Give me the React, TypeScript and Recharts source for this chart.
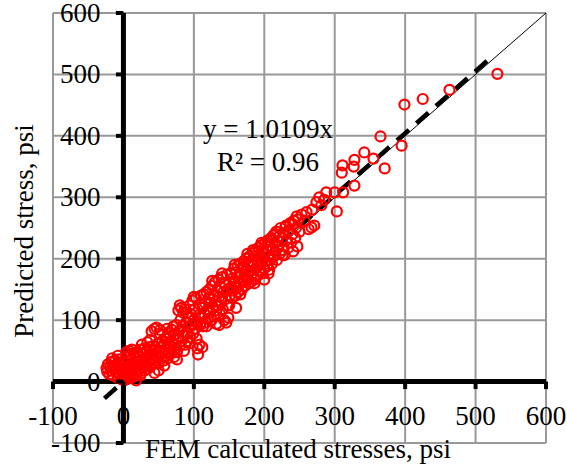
import React from 'react';
import { ScatterChart, Scatter, XAxis, YAxis, CartesianGrid, ReferenceLine, Customized } from 'recharts';

// FEM calculated stresses (psi) — x values
const femStress = [
  -24, -23, -22, -20, -19, -18, -17, -15, -14, -13,
  -12, -10, -9, -8, -7, -6, -5, -4, -3, -2,
  -1, 0, 0, 1,
  2, 2, 3, 4, 5, 5, 6, 7, 8, 9,
  10, 10, 11, 12, 13, 14, 15, 15, 16, 17,
  18, 19, 20, 20,
  21, 22, 23, 24, 25, 26, 27, 28, 29, 30,
  30, 31, 32, 33, 34, 35, 36, 37, 38, 39,
  40, 40,
  41, 42, 43, 44, 45, 46, 47, 48, 49, 50,
  51, 52, 53, 54, 55, 56, 57, 58, 59, 60,
  61, 62, 63, 64, 65,
  66, 67, 68, 69, 70, 71, 72, 73, 74, 75,
  76, 77, 78, 79, 80, 81, 82, 83, 84, 85,
  86, 87, 88, 89, 90,
  91, 92, 93, 94, 95, 96, 97, 98, 99, 100,
  101, 102, 103, 104, 105, 106, 107, 108, 108, 109,
  110, 111, 112, 113, 114, 115,
  116, 117, 118, 119, 120, 121, 122, 123, 124, 125,
  126, 127, 128, 129, 130, 131, 132, 133, 134, 135,
  136, 137, 138, 139, 140, 141, 142, 143, 144, 145,
  146, 147, 148, 149, 150, 150,
  151, 152, 153, 154, 155, 156, 157, 158, 159, 160,
  161, 162, 163, 164, 165, 166, 167, 168, 169, 170,
  171, 172, 173, 174, 175, 176, 177, 178, 179, 180,
  181, 182, 183, 184, 185, 186, 187, 188, 189, 190,
  191, 192, 193, 194, 195, 196, 197, 198, 199, 200,
  201, 202, 203, 204, 205, 206, 207, 208, 209, 210,
  211, 212, 213, 214, 215, 217, 218, 219, 221, 222,
  223, 225, 226, 228, 229, 231, 232, 234, 235, 237,
  238, 240, 241, 242, 244, 245, 247, 248, 250,
  241, 246, 253, 260, 267, 271, 274, 278, 281, 288,
  300, 303, 312, 257, 263, 268, 285,
  310, 311, 327, 328, 328, 342, 355, 371, 365, 395,
  399, 425, 463, 531,
  // extra spread points around the band
  -16, -8, 4, 12, 18, 26, 34, 44, 52, 58,
  64, 72, 80, 86, 94, 100, 104, 118, 126, 132,
  140, 148, 158, 166, 176, 186, 196, 206, 216, 226,
  8, 24, 38, 50, 62, 76, 90, 112, 136, 160,
  184, 200, 230,
];

// Predicted stresses (psi) — y values
const predictedStress = [
  22, 16, 28, 12, 24, 18, 32, 10, 26, 20,
  34, 14, 28, 6, 20, 36, 12, 26, 4, 18,
  32, 10, 24, 2,
  8, 30, 18, 40, 4, 24, 12, 34, 20, 6,
  44, 28, 14, 36, 22, 8, 46, 30, 16, 38,
  24, 10, 48, 32,
  18, 40, 28, 52, 14, 34, 22, 46, 30, 54,
  18, 38, 26, 50, 20, 42, 32, 56, 24, 46,
  36, 82,
  28, 58, 44, 86, 34, 52, 88, 40, 62, 30,
  48, 78, 56, 38, 66, 46, 34, 60, 70, 42,
  52, 72, 38, 62, 48,
  74, 56, 46, 84, 64, 90, 52, 76, 60, 92,
  48, 70, 116, 82, 58, 100, 120, 66, 90, 112,
  76, 118, 60, 96, 80,
  66, 104, 88, 124, 72, 110, 92, 132, 78, 100,
  118, 86, 136, 96, 54, 44, 108, 126, 60, 92,
  140, 104, 120, 90, 142, 110,
  128, 96, 146, 116, 102, 136, 150, 112, 128, 100,
  156, 120, 140, 106, 162, 130, 116, 148, 124, 166,
  138, 110, 154, 130, 170, 118, 146, 100, 160, 134,
  96, 174, 150, 104, 124, 162,
  140, 176, 154, 136, 168, 148, 184, 160, 140, 178,
  152, 188, 146, 170, 158, 192, 176, 150, 186, 164,
  196, 174, 156, 200, 182, 166, 194, 160, 204, 180,
  162, 196, 176, 210, 188, 166, 204, 184, 214, 172,
  196, 218, 182, 206, 190, 222, 176, 200, 212, 184,
  226, 196, 214, 188, 230, 204, 182, 220, 198, 234,
  192, 216, 238, 204, 226, 244, 198, 220, 236, 208,
  250, 228, 214, 242, 206, 254, 230, 218, 246, 258,
  226, 240, 212, 262, 234, 250, 220, 264, 244,
  256, 269, 272, 276, 251, 254, 292, 300, 287, 308,
  308, 277, 308, 262, 248, 280, 296,
  340, 352, 350, 361, 319, 373, 363, 347, 399, 384,
  451, 460, 475, 501,
  // extra spread points around the band
  38, 42, 48, 52, 2, 60, 64, 14, 84, 26,
  80, 40, 124, 50, 62, 138, 70, 90, 164, 94,
  176, 124, 190, 142, 208, 160, 226, 176, 240, 206,
  50, 10, 68, 18, 86, 36, 112, 56, 92, 120,
  214, 166, 252,
];

const axisTicks = [-100, 0, 100, 200, 300, 400, 500, 600];
const axisDomain: [number, number] = [-100, 600];
const trendSlope = 1.0109;
const trendXRange = [-27, 525];
const oneToOneRange = [0, 600];
const equationText = 'y = 1.0109x';
const r2Text = 'R² = 0.96';
const xTitle = 'FEM calculated stresses, psi';
const yTitle = 'Predicted stress, psi';

const W = 567;
const H = 467;
const MARGIN = { top: 13, right: 21, bottom: 23, left: 52 };
const AXIS_SIZE = 1;
const PLOT_LEFT = MARGIN.left + AXIS_SIZE;
const PLOT_TOP = MARGIN.top;
const PLOT_W = W - PLOT_LEFT - MARGIN.right;
const PLOT_H = H - MARGIN.top - MARGIN.bottom - AXIS_SIZE;
const ZERO_X = PLOT_LEFT + ((0 - axisDomain[0]) / (axisDomain[1] - axisDomain[0])) * PLOT_W;
const ZERO_Y = PLOT_TOP + ((axisDomain[1] - 0) / (axisDomain[1] - axisDomain[0])) * PLOT_H;
const FONT = '"Liberation Serif", "Times New Roman", serif';
const FS = 27;

const data = femStress.map((x, i) => ({ x, y: predictedStress[i] }));

const YTick = (props: any) => {
  const { y, payload } = props;
  return (
    <g>
      <line x1={ZERO_X - 7.5} x2={ZERO_X} y1={y} y2={y} stroke="#000" strokeWidth={4} />
      <text x={ZERO_X - 23} y={y} textAnchor="end" dominantBaseline="central" fontFamily={FONT} fontSize={FS} fill="#000">
        {payload.value}
      </text>
    </g>
  );
};

const XTick = (props: any) => {
  const { x, payload } = props;
  return (
    <g>
      <line x1={x} x2={x} y1={ZERO_Y} y2={ZERO_Y + 7.5} stroke="#000" strokeWidth={4} />
      <text x={x} y={ZERO_Y + 34} textAnchor="middle" dominantBaseline="central" fontFamily={FONT} fontSize={FS} fill="#000">
        {payload.value}
      </text>
    </g>
  );
};

const Marker = (props: any) => {
  const { cx, cy } = props;
  if (cx == null || cy == null) return <g />;
  return <circle cx={cx} cy={cy} r={5} fill="none" stroke="#FF0000" strokeWidth={2.2} />;
};

const Texts = () => (
  <g fontFamily={FONT} fontSize={FS} fill="#000">
    <text x={268} y={129} textAnchor="middle" dominantBaseline="central">{equationText}</text>
    <text x={268} y={162} textAnchor="middle" dominantBaseline="central">{r2Text}</text>
    <text x={298} y={458} textAnchor="middle">{xTitle}</text>
    <text x={24} y={231} textAnchor="middle" dominantBaseline="central" transform="rotate(-90 24 231)">{yTitle}</text>
  </g>
);

export default function App() {
  return (
    <div style={{ position: 'absolute', left: 0, top: 0, width: W, height: H, background: '#fff' }}>
      <ScatterChart width={W} height={H} margin={MARGIN}>
        <CartesianGrid stroke="#999999" strokeWidth={2} />
        <Scatter data={data} shape={<Marker />} isAnimationActive={false} />
        <ReferenceLine
          segment={[
            { x: oneToOneRange[0], y: oneToOneRange[0] },
            { x: oneToOneRange[1], y: oneToOneRange[1] },
          ]}
          stroke="#000"
          strokeWidth={1}
        />
        <ReferenceLine
          segment={[
            { x: trendXRange[0], y: trendXRange[0] * trendSlope },
            { x: trendXRange[1], y: trendXRange[1] * trendSlope },
          ]}
          stroke="#000"
          strokeWidth={4.5}
          strokeDasharray="16 10"
        />
        <ReferenceLine x={0} stroke="#000" strokeWidth={5} />
        <ReferenceLine y={0} stroke="#000" strokeWidth={5} />
        <XAxis
          type="number"
          dataKey="x"
          domain={axisDomain}
          ticks={axisTicks}
          interval={0}
          height={AXIS_SIZE}
          axisLine={false}
          tickLine={false}
          tick={<XTick />}
          allowDataOverflow
        />
        <YAxis
          type="number"
          dataKey="y"
          domain={axisDomain}
          ticks={axisTicks}
          interval={0}
          width={AXIS_SIZE}
          axisLine={false}
          tickLine={false}
          tick={<YTick />}
          allowDataOverflow
        />
        <Customized component={Texts} />
      </ScatterChart>
    </div>
  );
}
